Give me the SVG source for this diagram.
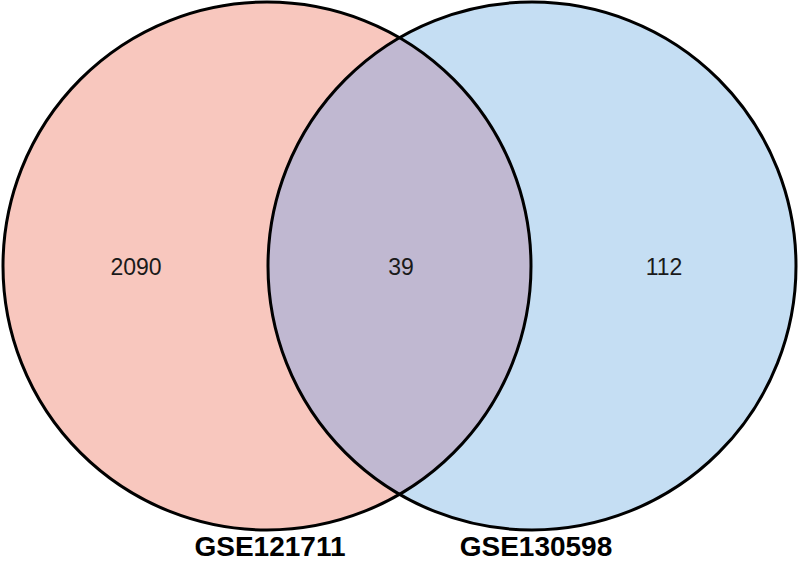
<svg xmlns="http://www.w3.org/2000/svg" width="800" height="562" viewBox="0 0 800 562">
<style>
.num{font-family:"Liberation Sans",Arial,sans-serif;font-size:23px;fill:#1a1a1a;text-anchor:middle}
.lbl{font-family:"Liberation Sans",Arial,sans-serif;font-size:28px;font-weight:bold;fill:#000;text-anchor:middle}
.ring{fill:none;stroke:#000;stroke-width:3}
</style>
<rect width="800" height="562" fill="#fff"/>
<g id="set-GSE121711">
<circle cx="267" cy="266" r="264" fill="#F8C7BE"/>
</g>
<g id="set-GSE130598">
<circle cx="532" cy="266" r="264" fill="#C5DEF3"/>
</g>
<g id="overlap">
<path d="M399.5 37.7 A264 264 0 0 1 399.5 494.3 A264 264 0 0 1 399.5 37.7 Z" fill="#C0B8D1"/>
</g>
<g id="outlines">
<circle class="ring" cx="267" cy="266" r="264"/>
<circle class="ring" cx="532" cy="266" r="264"/>
</g>
<g id="counts">
<text class="num" x="136" y="275">2090</text>
<text class="num" x="401" y="275">39</text>
<text class="num" x="664" y="275">112</text>
</g>
<g id="labels">
<text class="lbl" x="270" y="556">GSE121711</text>
<text class="lbl" x="536" y="556">GSE130598</text>
</g>
</svg>
